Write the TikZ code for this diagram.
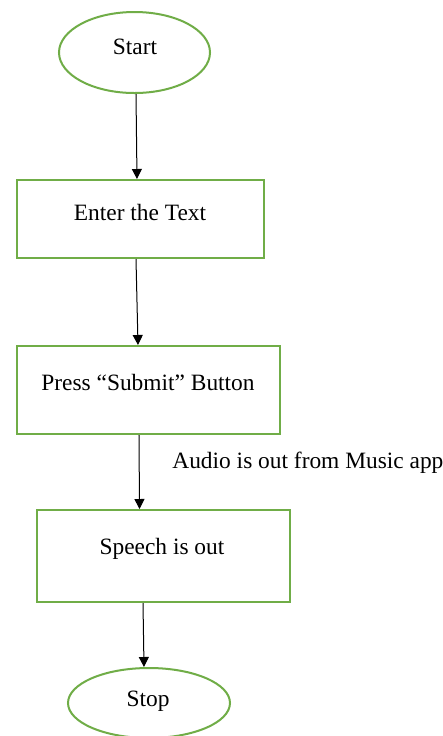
\documentclass[tikz,border=0pt]{standalone}
\usepackage{fontspec}
\setmainfont{Liberation Serif}
\usetikzlibrary{shapes.geometric,arrows.meta}
\definecolor{flowgreen}{RGB}{112,173,71}
\begin{document}
\begin{tikzpicture}[x=0.5pt,y=-0.5pt,
  font=\fontsize{11.7}{14}\selectfont,
  term/.style={ellipse,draw=flowgreen,line width=1pt,inner sep=0pt},
  procbox/.style={rectangle,draw=flowgreen,line width=1pt,inner sep=0pt},
  flow/.style={draw=black,line width=0.5pt,-{Triangle[length=5pt,width=5pt]}},
  txt/.style={inner sep=0pt,text=black}]
\useasboundingbox[fill=white] (0,0) rectangle (443,736);
\node[term,minimum width=75.5pt,minimum height=40.5pt] (start) at (134.5,52.5) {};
\node[txt] (starttxt) at (135,47) {Start};
\node[procbox,minimum width=123.5pt,minimum height=39pt] (b1) at (140.5,219) {};
\node[txt] (b1txt) at (140,212) {Enter the Text};
\node[procbox,minimum width=131.5pt,minimum height=44pt] (b2) at (148.5,390) {};
\node[txt] (b2txt) at (148,382) {Press “Submit” Button};
\node[procbox,minimum width=126.5pt,minimum height=46pt] (b3) at (163.5,556) {};
\node[txt] (b3txt) at (162,549) {Speech is out};
\node[term,minimum width=81pt,minimum height=35pt] (stop) at (149,703) {};
\node[txt] (stoptxt) at (148,701) {Stop};
\draw[flow] ([xshift=0.75pt]start.south) -- ([xshift=-1.75pt]b1.north);
\draw[flow] ([xshift=-2.25pt]b1.south) -- ([xshift=-5.25pt]b2.north);
\draw[flow] ([xshift=-4.75pt]b2.south) -- ([xshift=-12pt]b3.north);
\draw[flow] ([xshift=-10.25pt]b3.south) -- ([xshift=-2.5pt]stop.north);
\node[txt,anchor=west] (audio) at (172,463) {Audio is out from Music app};
\end{tikzpicture}
\end{document}
